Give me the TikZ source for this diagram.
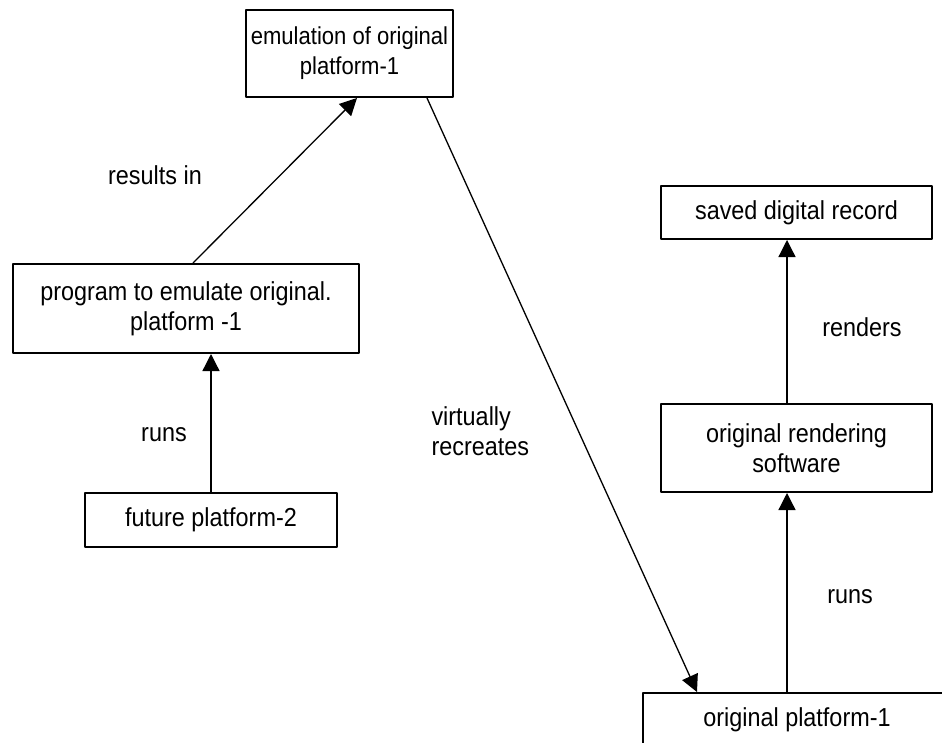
\documentclass[tikz,border=0pt]{standalone}
\usepackage{fontspec}
\setmainfont{Liberation Sans}[FakeStretch=0.9]
\usetikzlibrary{arrows.meta}
\begin{document}
\begin{tikzpicture}[x=1pt,y=-1pt,line join=round,
  font=\fontsize{26}{30}\selectfont,
  box/.style={draw,line width=2pt,align=center,inner sep=0pt},
  link/.style={line width=1.3pt,-{Triangle[length=17pt,width=17pt]}}]
\useasboundingbox (0,0) rectangle (942,742);

% boxes
\node[box,minimum width=207pt,minimum height=87pt,
  font=\fontsize{24.5}{30}\selectfont] (emu) at (349.5,53.5)
  {emulation of original\\platform-1};
\node[box,minimum width=346pt,minimum height=89pt] (prog) at (186,308.5)
  {program to emulate original.\\platform -1};
\node[box,minimum width=252pt,minimum height=54pt] (fut) at (211,520)
  {future platform-2};
\node[box,minimum width=271pt,minimum height=53pt] (saved) at (796.5,212.5)
  {saved digital record};
\node[box,minimum width=271pt,minimum height=88pt] (soft) at (796.5,448)
  {original rendering\\software};
\node[box,minimum width=308pt,minimum height=54pt] (plat) at (797,720)
  {original platform-1};

% arrows
\draw[link] ([xshift=7pt]prog.north) -- ([xshift=7.5pt]emu.south);
\draw[link] ([xshift=77.5pt]emu.south) -- ([xshift=-100pt]plat.north);
\draw[link] (fut.north) -- (prog.south -| fut.north);
\draw[link] ([xshift=-9.5pt]soft.north) -- ([xshift=-9.5pt]saved.south);
\draw[link] ([xshift=-10pt]plat.north) -- ([xshift=-9.5pt]soft.south);

% labels
\node (resl) at (155,175) {results in};
\node (runl) at (164,435) {runs};
\node[align=left,anchor=west] (virt) at (428,431) {virtually\\recreates};
\node (rend) at (862,327) {renders};
\node (runr) at (850,597) {runs};
\end{tikzpicture}
\end{document}
